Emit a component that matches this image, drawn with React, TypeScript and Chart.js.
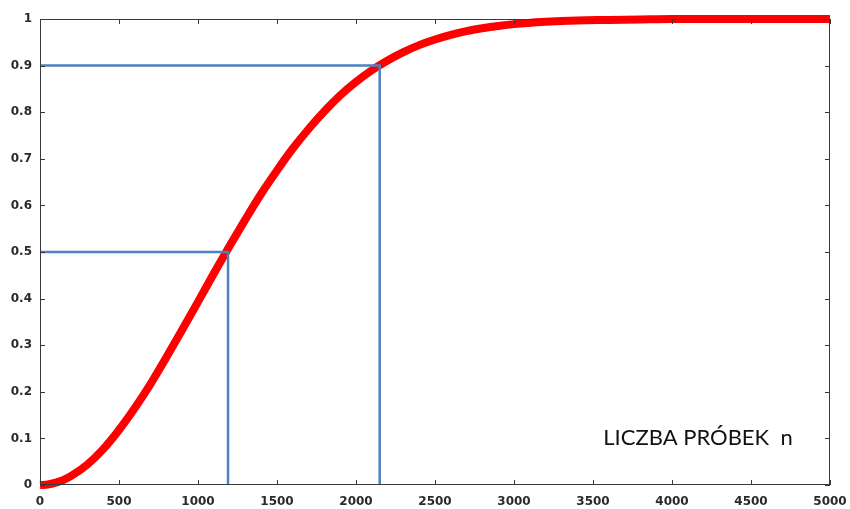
import React, { useEffect, useRef } from "react";
import { Chart, registerables } from "chart.js";

Chart.register(...registerables);

// Curve values (n, probability)
const sampleN = [0, 50, 100, 150, 200, 300, 400, 500, 600, 700, 800, 900, 1000, 1100, 1200, 1300, 1400, 1500, 1600, 1700, 1800, 1900, 2000, 2100, 2200, 2300, 2400, 2500, 2600, 2700, 2800, 2900, 3000, 3200, 3400, 3600, 3800, 4000, 4500, 5000];
const probability = [0, 0.001, 0.005, 0.011, 0.02, 0.044, 0.077, 0.118, 0.165, 0.217, 0.274, 0.333, 0.393, 0.454, 0.513, 0.57, 0.625, 0.675, 0.722, 0.764, 0.802, 0.836, 0.865, 0.89, 0.911, 0.929, 0.944, 0.956, 0.966, 0.974, 0.98, 0.985, 0.989, 0.994, 0.997, 0.998, 0.999, 1, 1, 1];

// Guide lines (blue)
const guideHalfN = 1190;
const guideHalfP = 0.5;
const guideNinetyN = 2150;
const guideNinetyP = 0.9;

const xTicks = [0, 500, 1000, 1500, 2000, 2500, 3000, 3500, 4000, 4500, 5000];
const xTickLabels = ["0", "500", "1000", "1500", "2000", "2500", "3000", "3500", "4000", "4500", "5000"];
const yTicks = [0, 0.1, 0.2, 0.3, 0.4, 0.5, 0.6, 0.7, 0.8, 0.9, 1];
const yTickLabels = ["0", "0.1", "0.2", "0.3", "0.4", "0.5", "0.6", "0.7", "0.8", "0.9", "1"];
const axisTitle = "LICZBA PRÓBEK  n";

const labelFor = (ticks: number[], labels: string[]) => (v: any) => {
  const i = ticks.findIndex((t) => Math.abs(t - v) < 1e-9);
  return i >= 0 ? labels[i] : "";
};

const framePlugin = {
  id: "frameTicks",
  afterDatasetsDraw(chart: any) {
    const { ctx, chartArea, scales } = chart;
    const { left, right, top, bottom } = chartArea;
    ctx.save();
    ctx.strokeStyle = "#3a3a3a";
    ctx.lineWidth = 1;
    ctx.strokeRect(left + 0.5, top + 0.5, right - left - 1, bottom - top - 1);
    const len = 5;
    ctx.beginPath();
    xTicks.forEach((v) => {
      const px = Math.round(scales.x.getPixelForValue(v)) + 0.5;
      ctx.moveTo(px, bottom);
      ctx.lineTo(px, bottom - len);
      ctx.moveTo(px, top);
      ctx.lineTo(px, top + len);
    });
    yTicks.forEach((v) => {
      const py = Math.round(scales.y.getPixelForValue(v)) + 0.5;
      ctx.moveTo(left, py);
      ctx.lineTo(left + len, py);
      ctx.moveTo(right, py);
      ctx.lineTo(right - len, py);
    });
    ctx.stroke();
    ctx.fillStyle = "#111";
    ctx.font = "22px Lato, 'Open Sans', sans-serif";
    ctx.textBaseline = "middle";
    ctx.textAlign = "left";
    ctx.fillText(axisTitle, scales.x.getPixelForValue(3565), scales.y.getPixelForValue(0.1));
    ctx.restore();
  },
};

const tickFont = { family: "'DejaVu Sans', sans-serif", size: 12, weight: "bold" as const };

export default function App() {
  const ref = useRef<HTMLCanvasElement | null>(null);
  useEffect(() => {
    if (!ref.current) return;
    const chart = new Chart(ref.current, {
      type: "line",
      data: {
        datasets: [
          {
            data: [
              { x: 0, y: guideNinetyP },
              { x: guideNinetyN, y: guideNinetyP },
              { x: guideNinetyN, y: 0 },
            ],
            borderColor: "#4f81bd",
            borderWidth: 2.5,
            pointRadius: 0,
            fill: false,
          },
          {
            data: [
              { x: 0, y: guideHalfP },
              { x: guideHalfN, y: guideHalfP },
              { x: guideHalfN, y: 0 },
            ],
            borderColor: "#4f81bd",
            borderWidth: 2.5,
            pointRadius: 0,
            fill: false,
          },
          {
            data: sampleN.map((n, i) => ({ x: n, y: probability[i] })),
            borderColor: "#ff0000",
            borderWidth: 8,
            pointRadius: 0,
            cubicInterpolationMode: "monotone",
            fill: false,
            clip: false,
          },
        ],
      },
      options: {
        animation: false,
        responsive: true,
        maintainAspectRatio: false,
        layout: { padding: { top: 19, right: 20, left: 0, bottom: 0 } },
        plugins: { legend: { display: false }, tooltip: { enabled: false } },
        scales: {
          x: {
            type: "linear",
            min: 0,
            max: 5000,
            afterBuildTicks: (s: any) => {
              s.ticks = xTicks.map((v) => ({ value: v }));
            },
            afterFit: (s: any) => {
              s.height = 24;
              s.paddingLeft = 0;
              s.paddingRight = 0;
            },
            grid: { display: false, drawTicks: false },
            border: { display: false },
            ticks: {
              padding: 10,
              color: "#2a2a2a",
              font: tickFont,
              maxRotation: 0,
              autoSkip: false,
              callback: labelFor(xTicks, xTickLabels),
            },
          },
          y: {
            type: "linear",
            min: 0,
            max: 1,
            afterBuildTicks: (s: any) => {
              s.ticks = yTicks.map((v) => ({ value: v }));
            },
            afterFit: (s: any) => {
              s.width = 40;
              s.paddingTop = 0;
              s.paddingBottom = 0;
            },
            grid: { display: false, drawTicks: false },
            border: { display: false },
            ticks: {
              padding: 8,
              color: "#2a2a2a",
              font: tickFont,
              autoSkip: false,
              callback: labelFor(yTicks, yTickLabels),
            },
          },
        },
      },
      plugins: [framePlugin],
    } as any);
    return () => chart.destroy();
  }, []);
  return (
    <div style={{ position: "fixed", left: 0, top: 0, width: 850, height: 509, background: "#fff" }}>
      <canvas ref={ref} />
    </div>
  );
}
